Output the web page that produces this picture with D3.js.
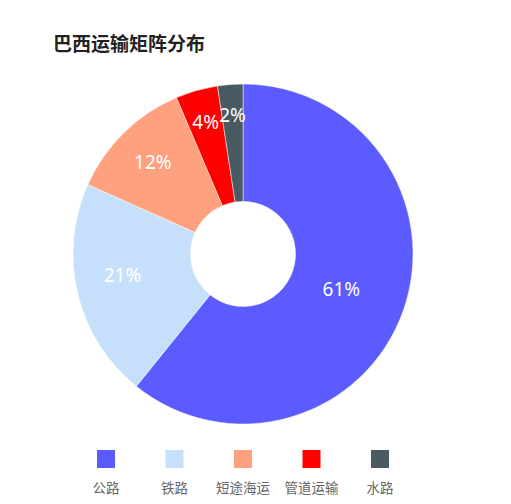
<!DOCTYPE html>
<html>
<head>
<meta charset="utf-8">
<script src="https://cdn.jsdelivr.net/npm/d3@7"></script>
<style>
  html, body { margin: 0; padding: 0; background: #fff; }
  svg { display: block; }
</style>
</head>
<body>
<div id="chart"></div>
<script>
// Brazil transport matrix shares (percent)
const categories = ['公路', '铁路', '短途海运', '管道运输', '水路']
const shares = [60.8, 20.9, 11.9, 4.0, 2.4]
const colors = ['#5b5bff', '#c6e0fc', '#ffa07f', '#ff0000', '#4a5a63']
const title = '巴西运输矩阵分布'

const width = 511
const height = 504
const cx = 243
const cy = 254
const outerR = 170
const innerR = 52.5
const font = '"Noto Sans CJK SC", "Noto Sans", sans-serif'
const numFont = '"Noto Sans", "Open Sans", sans-serif'

const data = categories.map((name, i) => ({ name, value: shares[i], color: colors[i] }))
const total = d3.sum(shares)

const svg = d3.select('#chart')
  .append('svg')
  .attr('width', width)
  .attr('height', height)

// Title
svg.append('text')
  .attr('x', 53)
  .attr('y', 51)
  .attr('font-family', font)
  .attr('font-size', 19)
  .attr('font-weight', 'bold')
  .attr('fill', '#222')
  .text(title)

// Donut
const pie = d3.pie().sort(null).value((d) => d.value)
const arc = d3.arc().innerRadius(innerR).outerRadius(outerR)
const arcs = pie(data)

const g = svg.append('g').attr('transform', `translate(${cx},${cy})`)

g.selectAll('path')
  .data(arcs)
  .join('path')
  .attr('d', arc)
  .attr('fill', (d) => d.data.color)
  .attr('stroke', '#fff')
  .attr('stroke-width', 0.5)

// Labels: small slices pushed outward a bit
function labelPos(d) {
  const frac = d.data.value / total
  const r = outerR - (22 + 56 * Math.sqrt(frac))
  const a = (d.startAngle + d.endAngle) / 2 + (frac > 0.15 && frac < 0.3 ? 0.06 : 0)
  return [Math.sin(a) * r, -Math.cos(a) * r]
}

g.selectAll('text.pct')
  .data(arcs)
  .join('text')
  .attr('class', 'pct')
  .attr('x', (d) => labelPos(d)[0])
  .attr('y', (d) => labelPos(d)[1])
  .attr('text-anchor', 'middle')
  .attr('dominant-baseline', 'central')
  .attr('font-family', numFont)
  .attr('font-size', 19)
  .attr('fill', '#fff')
  .text((d) => d3.format('.0f')(d.data.value / total * 100) + '%')

// Legend
const legendX = d3.scalePoint()
  .domain(categories)
  .range([106, 380])

const legend = svg.append('g')
  .selectAll('g')
  .data(data)
  .join('g')
  .attr('transform', (d) => `translate(${legendX(d.name)},0)`)

legend.append('rect')
  .attr('x', -9)
  .attr('y', 450)
  .attr('width', 18)
  .attr('height', 18)
  .attr('fill', (d) => d.color)

legend.append('text')
  .attr('y', 486.5)
  .attr('text-anchor', 'middle')
  .attr('dominant-baseline', 'central')
  .attr('font-family', font)
  .attr('font-size', 13.5)
  .attr('fill', '#666')
  .text((d) => d.name)
</script>
</body>
</html>
